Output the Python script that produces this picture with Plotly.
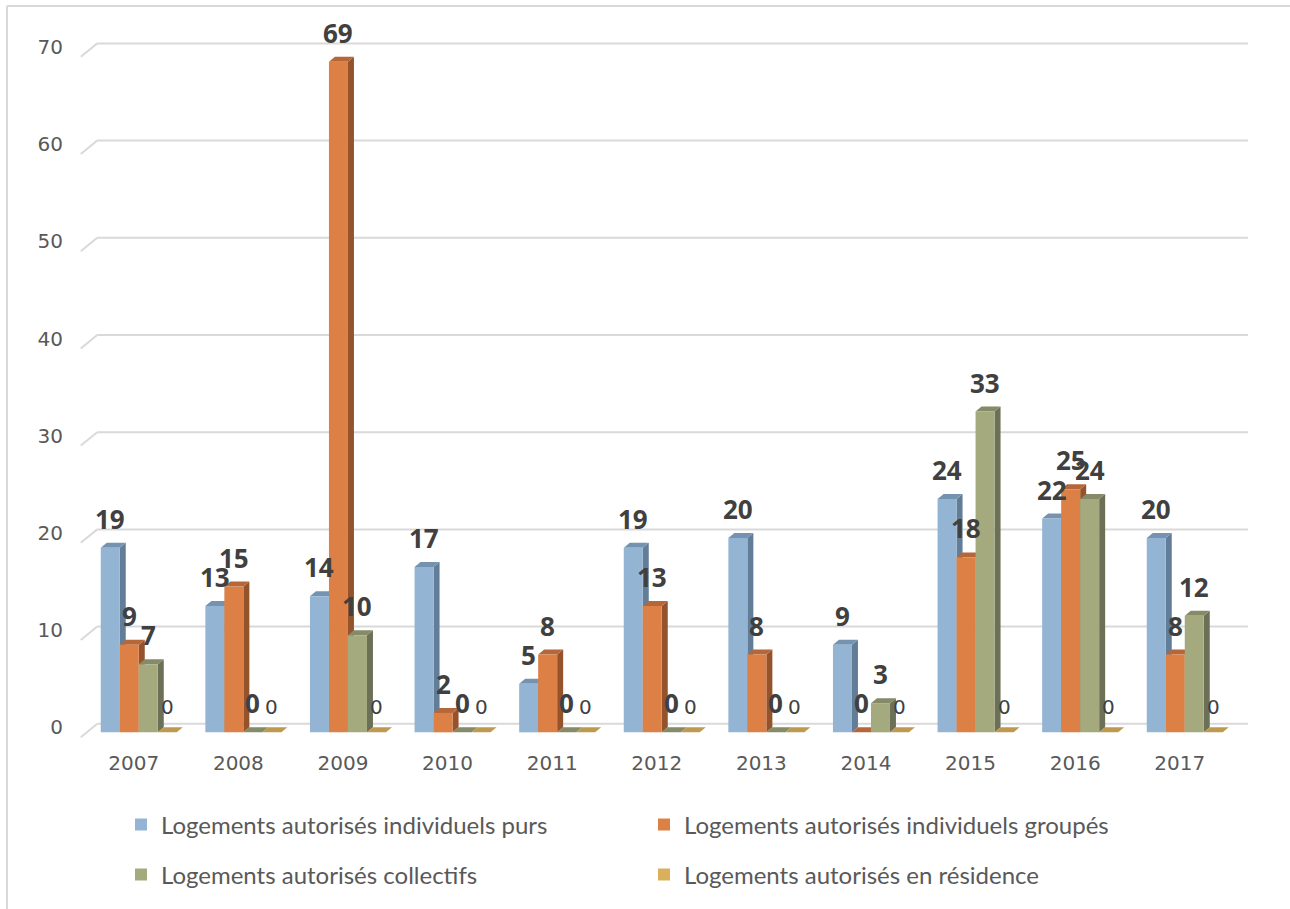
import numpy as np
import plotly.graph_objects as go

# ---- data -------------------------------------------------------------
years = ["2007", "2008", "2009", "2010", "2011", "2012",
         "2013", "2014", "2015", "2016", "2017"]
individuels_purs = [19, 13, 14, 17, 5, 19, 20, 9, 24, 22, 20]
individuels_groupes = [9, 15, 69, 2, 8, 13, 8, 0, 18, 25, 8]
collectifs = [7, 0, 10, 0, 0, 0, 0, 3, 33, 24, 12]
en_residence = [0, 0, 0, 0, 0, 0, 0, 0, 0, 0, 0]

series_names = [
    "Logements autorisés individuels purs",
    "Logements autorisés individuels groupés",
    "Logements autorisés collectifs",
    "Logements autorisés en résidence",
]
y_ticks = [0, 10, 20, 30, 40, 50, 60, 70]

# ---- styling ------------------------------------------------------------
front_colors = ["#93B4D3", "#DD8046", "#A4AA7E", "#D9B15C"]
side_colors = ["#617D97", "#95532B", "#6C7056", "#8F743B"]
top_colors = ["#7593B0", "#B5673A", "#858A67", "#BE9A50"]
label_color = "#404040"
axis_text = "#595959"
grid_color = "#D9D9D9"

W, H = 1290, 909
M_L, M_R, M_T, M_B = 76, 40, 20, 165
plot_w = W - M_L - M_R
plot_h = H - M_T - M_B
PX_PER_X = 104.6          # pixels per category
PX_PER_Y = 9.72           # pixels per unit
x_range = [-0.6, -0.6 + plot_w / PX_PER_X]
y_range = [-1.2, -1.2 + plot_h / PX_PER_Y]

BARGAP = 0.2734
n_series = 4
bar_w = (1 - BARGAP) / n_series
depth_dx = 6 / PX_PER_X   # pseudo-3D depth of the bars
depth_dy = 5 / PX_PER_Y

all_series = [individuels_purs, individuels_groupes, collectifs, en_residence]
x_idx = np.arange(len(years))

fig = go.Figure()

for s, (name, vals) in enumerate(zip(series_names, all_series)):
    fig.add_trace(go.Bar(
        x=x_idx, y=vals, name=name,
        marker=dict(color=front_colors[s], line=dict(width=0)),
        legend="legend" if s < 2 else "legend2",
        hoverinfo="skip",
    ))

shapes = []

# back-wall gridlines with a short perspective segment on the left
grid_front_x = -0.554
grid_back_x = -0.397
grid_front_dy = -0.5
grid_back_dy = 0.88
for v in y_ticks:
    shapes.append(dict(type="line", xref="x", yref="y", layer="below",
                       x0=grid_front_x, y0=v + grid_front_dy,
                       x1=grid_back_x, y1=v + grid_back_dy,
                       line=dict(color=grid_color, width=2)))
    shapes.append(dict(type="line", xref="x", yref="y", layer="below",
                       x0=grid_back_x, y0=v + grid_back_dy,
                       x1=x_range[1] - 0.02, y1=v + grid_back_dy,
                       line=dict(color=grid_color, width=2)))

# side and top faces of each bar, plus value labels
annotations = []
for s, vals in enumerate(all_series):
    for i, v in enumerate(vals):
        xc = i + (s - (n_series - 1) / 2) * bar_w
        x0, x1 = xc - bar_w / 2, xc + bar_w / 2
        if v > 0:
            shapes.append(dict(
                type="path", xref="x", yref="y", layer="below",
                path=f"M {x1},0 L {x1},{v} L {x1 + depth_dx},{v + depth_dy} "
                     f"L {x1 + depth_dx},{depth_dy} Z",
                fillcolor=side_colors[s], line=dict(width=0)))
        shapes.append(dict(
            type="path", xref="x", yref="y", layer="below",
            path=f"M {x0},{v} L {x1},{v} L {x1 + depth_dx},{v + depth_dy} "
                 f"L {x0 + depth_dx},{v + depth_dy} Z",
            fillcolor=top_colors[s], line=dict(width=0)))

        if s < 3:
            annotations.append(dict(
                x=xc, y=v, xref="x", yref="y", text=str(v), showarrow=False,
                yanchor="middle", yshift=29,
                font=dict(family="Open Sans", size=26, color=label_color,
                          weight="bold")))
        else:
            annotations.append(dict(
                x=xc, y=v, xref="x", yref="y", text=str(v), showarrow=False,
                yanchor="middle", yshift=25,
                font=dict(family="DejaVu Sans", size=20, color=label_color)))


def px_x(p):
    return (p - M_L) / plot_w


def px_y(p):
    return 1 - (p - M_T) / plot_h


# chart frame (left and top edges)
shapes.append(dict(type="line", xref="paper", yref="paper", layer="above",
                   x0=px_x(7), y0=px_y(909), x1=px_x(7), y1=px_y(6),
                   line=dict(color=grid_color, width=2)))
shapes.append(dict(type="line", xref="paper", yref="paper", layer="above",
                   x0=px_x(7), y0=px_y(6), x1=px_x(1290), y1=px_y(6),
                   line=dict(color=grid_color, width=2)))

legend_font = dict(family="Lato", size=24, color=axis_text)

fig.update_layout(
    width=W, height=H,
    margin=dict(l=M_L, r=M_R, t=M_T, b=M_B, autoexpand=False),
    paper_bgcolor="white", plot_bgcolor="white",
    barmode="group", bargap=BARGAP, bargroupgap=0,
    shapes=shapes, annotations=annotations,
    xaxis=dict(range=x_range, tickvals=list(x_idx), ticktext=years,
               showgrid=False, zeroline=False, showline=False, ticks="",
               ticklabelstandoff=5, ticklabelshift=-5,
               tickfont=dict(family="DejaVu Sans", size=20, color=axis_text)),
    yaxis=dict(range=y_range, tickvals=y_ticks,
               showgrid=False, zeroline=False, showline=False, ticks="",
               ticklabelstandoff=12, ticklabelshift=-5,
               tickfont=dict(family="DejaVu Sans", size=20, color=axis_text)),
    legend=dict(orientation="h", xref="container", yref="container",
                x=121 / W, y=1 - 825 / H, xanchor="left", yanchor="middle",
                entrywidth=478, font=legend_font, bgcolor="rgba(0,0,0,0)"),
    legend2=dict(orientation="h", xref="container", yref="container",
                 x=121 / W, y=1 - 875 / H, xanchor="left", yanchor="middle",
                 entrywidth=478, font=legend_font, bgcolor="rgba(0,0,0,0)"),
    showlegend=True,
)

fig.write_html("out.html")
